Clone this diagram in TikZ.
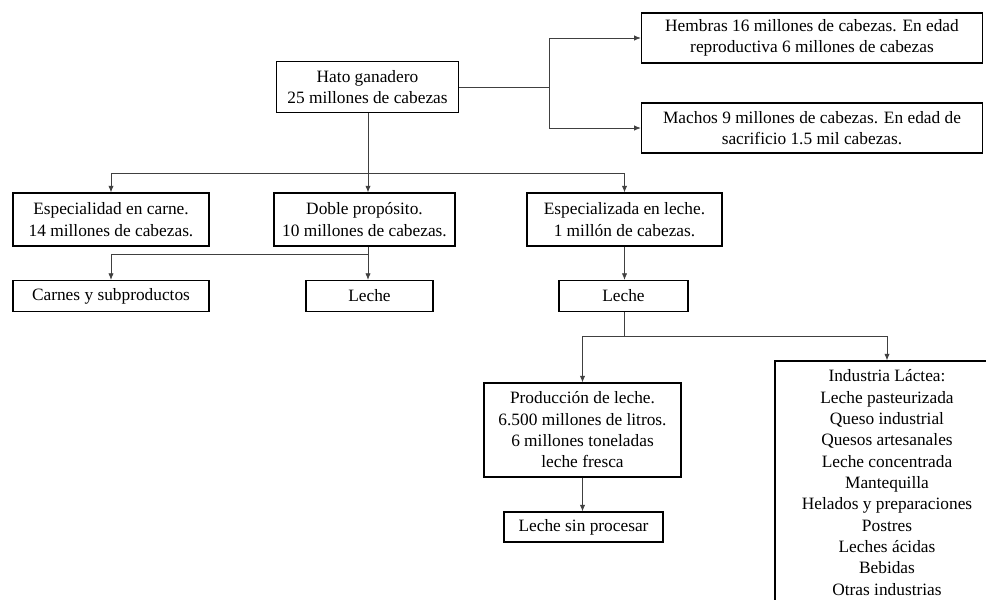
\documentclass[tikz,border=0pt]{standalone}
\usepackage{fontspec}
\setmainfont{Liberation Serif}
\usetikzlibrary{arrows.meta}

\tikzset{
  caja/.style={draw, line width=0.8pt, align=center, inner sep=0pt,
    font=\fontsize{13}{16}\selectfont},
  enlace/.style={line width=0.6pt, draw=black!75}
}

\begin{document}
\begin{tikzpicture}[>={Latex[length=5pt, width=4pt]}, x=0.75pt, y=-0.75pt]
  \clip (0, 0) rectangle (986, 600);
  % States
  \node (hato) at (367.5, 87) [caja, minimum width=137pt, minimum height=38pt] {Hato ganadero\\25 millones de cabezas};

  \node (hembras) at (812, 38) [caja, minimum width=256pt, minimum height=37.5pt] {Hembras 16 millones de cabezas. En edad\\reproductiva 6 millones de cabezas};
  \node (machos) at (812, 128) [caja, minimum width=256pt, minimum height=37.5pt] {Machos 9 millones de cabezas. En edad de\\sacrificio 1.5 mil cabezas.};

  \node (carne) at (111, 219.5) [caja, minimum width=147pt, minimum height=39.75pt] {Especialidad en carne.\\14 millones de cabezas.};
  \node (doble) at (364.5, 219.5) [caja, minimum width=135.75pt, minimum height=39.75pt] {Doble prop\'osito.\\10 millones de cabezas.};
  \node (eleche) at (624.5, 219.5) [caja, minimum width=146.25pt, minimum height=39.75pt] {Especializada en leche.\\1 mill\'on de cabezas.};

  \node (carnes) at (111, 296) [caja, minimum width=147pt, minimum height=23.25pt] {Carnes y subproductos};
  \node (lechedp) at (369.5, 296) [caja, minimum width=95.25pt, minimum height=23.25pt] {Leche};
  \node (lechee) at (623.5, 296) [caja, minimum width=96.75pt, minimum height=23.25pt] {Leche};

  \node (prod) at (582.5, 430) [caja, minimum width=147.75pt, minimum height=70.5pt] {Producci\'on de leche.\\6.500 millones de litros.\\6 millones toneladas\\leche fresca};
  \node (sinproc) at (583.5, 527) [caja, minimum width=119.25pt, minimum height=22.5pt] {Leche sin procesar};

  \node (industria) at (887, 482.5) [caja, minimum width=168pt, minimum height=182.25pt] {Industria L\'actea:\\Leche pasteurizada\\Queso industrial\\Quesos artesanales\\Leche concentrada\\Mantequilla\\Helados y preparaciones\\Postres\\Leches \'acidas\\Bebidas\\Otras industrias};

  % Edges
  \coordinate (sexo) at (549, 87);
  \draw[enlace] (hato.east) -- (sexo);
  \draw[enlace, ->] (sexo) |- (hembras);
  \draw[enlace, ->] (sexo) |- (machos);

  \coordinate (tipo) at (368, 173);
  \draw[enlace] (hato.south -| tipo) -- (tipo);
  \draw[enlace, ->] (tipo) -| (carne);
  \draw[enlace, ->] (tipo) -- (tipo |- doble.north);
  \draw[enlace, ->] (tipo) -| (eleche);

  \coordinate (uso) at (368, 254);
  \draw[enlace] (doble.south -| uso) -- (uso);
  \draw[enlace, ->] (uso) -- (uso |- lechedp.north);
  \draw[enlace, ->] (uso) -| (carnes);
  \draw[enlace, ->] (eleche) -- (eleche |- lechee.north);

  \coordinate (destino) at (624, 336);
  \draw[enlace] (lechee.south -| destino) -- (destino);
  \draw[enlace, ->] (destino) -| (prod);
  \draw[enlace, ->] (destino) -| (industria);
  \draw[enlace, ->] (prod) -- (prod |- sinproc.north);
\end{tikzpicture}
\end{document}
